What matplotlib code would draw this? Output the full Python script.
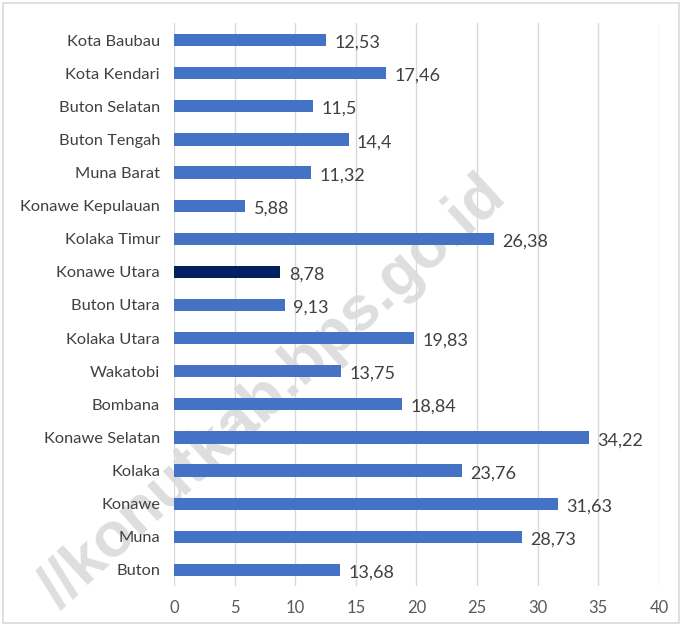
import matplotlib
matplotlib.use("Agg")
import matplotlib.pyplot as plt
from matplotlib.patches import Rectangle

plt.rcParams['font.family'] = ['Lato', 'DejaVu Sans']

regions = ["Kota Baubau", "Kota Kendari", "Buton Selatan", "Buton Tengah", "Muna Barat",
           "Konawe Kepulauan", "Kolaka Timur", "Konawe Utara", "Buton Utara", "Kolaka Utara",
           "Wakatobi", "Bombana", "Konawe Selatan", "Kolaka", "Konawe", "Muna", "Buton"]
values = [12.53, 17.46, 11.5, 14.4, 11.32, 5.88, 26.38, 8.78, 9.13, 19.83,
          13.75, 18.84, 34.22, 23.76, 31.63, 28.73, 13.68]
value_labels = ["12,53", "17,46", "11,5", "14,4", "11,32", "5,88", "26,38", "8,78", "9,13",
                "19,83", "13,75", "18,84", "34,22", "23,76", "31,63", "28,73", "13,68"]
highlight = "Konawe Utara"
x_ticks = [0, 5, 10, 15, 20, 25, 30, 35, 40]

fig = plt.figure(figsize=(6.82, 6.26), dpi=100)
ax = fig.add_axes([0.2551, 0.0631, 0.7112, 0.8994])

# chart frame
fig.patches.append(Rectangle((0.005, 0.004), 0.99, 0.992, transform=fig.transFigure,
                             fill=False, edgecolor="#d9d9d9", linewidth=1.2))

# watermark, kept underneath the plot
fig.text(0.40, 0.372, "//konutkab.bps.go.id", rotation=42.5, fontsize=45, fontweight="bold",
         family=["Liberation Sans", "DejaVu Sans"],
         color="#dedede", ha="center", va="center", zorder=-1,
         rotation_mode="anchor")

ax.set_facecolor("none")
pos = list(range(len(regions)))
colors = ["#002060" if r == highlight else "#4472c4" for r in regions]
ax.barh(pos, values, height=0.37, color=colors, zorder=3)

for p, v, lab in zip(pos, values, value_labels):
    ax.annotate(lab, xy=(v, p), xytext=(6, -2), textcoords="offset points",
                ha="left", va="center", fontsize=13, color="#404040", zorder=4)

ax.set_xlim(0, 40)
ax.set_ylim(len(regions) - 0.5, -0.5)
ax.set_xticks(x_ticks)
ax.set_xticklabels([str(t) for t in x_ticks])
ax.set_yticks(pos)
ax.set_yticklabels(regions)
ax.tick_params(axis="x", length=0, pad=10, labelsize=12, labelcolor="#595959")
ax.tick_params(axis="y", length=0, pad=10, labelsize=11.8, labelcolor="#404040")
ax.grid(axis="x", color="#d9d9d9", linewidth=1, zorder=1)
ax.set_axisbelow(True)
for s in ax.spines.values():
    s.set_visible(False)

fig.savefig("out.png", dpi=100)
